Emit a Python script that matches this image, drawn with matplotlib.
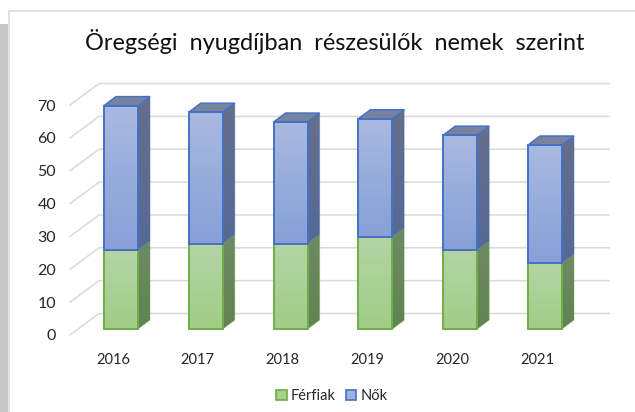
import numpy as np
import matplotlib
matplotlib.use("Agg")
import matplotlib.pyplot as plt
from matplotlib.colors import LinearSegmentedColormap
from matplotlib.patches import Patch, Polygon, Rectangle

plt.rcParams['font.family'] = ['Lato', 'DejaVu Sans']

years = ['2016', '2017', '2018', '2019', '2020', '2021']
ferfiak = [24, 26, 26, 28, 24, 20]
nok = [44, 40, 37, 36, 35, 36]
yticks = [0, 10, 20, 30, 40, 50, 60, 70]
title = 'Öregségi  nyugdíjban  részesülők  nemek  szerint'

W, H = 635, 412
PX_CAT = 84.8   # px per category
PX_VAL = 3.285  # px per value unit


def gradient(ax, poly, c_top, c_bottom, y0, y1):
    xs = [p[0] for p in poly]
    cmap = LinearSegmentedColormap.from_list('g', [c_bottom, c_top])
    im = ax.imshow(np.linspace(1, 0, 64).reshape(-1, 1), cmap=cmap, vmin=0, vmax=1,
                   extent=(min(xs), max(xs), y0, y1), aspect='auto', zorder=3)
    im.set_clip_path(Polygon(poly, transform=ax.transData))


def box(ax, x, y0, y1, front, side, cap, edge, draw_top):
    hw = 17 / PX_CAT
    dx, dy = 12 / PX_CAT, 9 / PX_VAL
    l, r = x - hw, x + hw
    side_poly = [(r, y0), (r + dx, y0 + dy), (r + dx, y1 + dy), (r, y1)]
    front_poly = [(l, y0), (r, y0), (r, y1), (l, y1)]
    gradient(ax, side_poly, side[0], side[1], y0, y1 + dy)
    gradient(ax, front_poly, front[0], front[1], y0, y1)
    ax.add_patch(Polygon(side_poly, fill=False, ec=edge, lw=0.7, alpha=0.45, zorder=4))
    if draw_top:
        top_poly = [(l, y1), (r, y1), (r + dx, y1 + dy), (l + dx, y1 + dy)]
        ax.add_patch(Polygon(top_poly, fc=cap, ec=edge, lw=1.1, zorder=4))
    ax.add_patch(Polygon(front_poly, fill=False, ec=edge, lw=1.4, zorder=5))


fig = plt.figure(figsize=(W / 100, H / 100), dpi=100, facecolor='white')

# gray frame of the screenshot
fig.add_artist(Rectangle((0, 0), 8 / W, (H - 24) / H, fc='#C8C8C8', ec='none'))
fig.add_artist(Rectangle((8 / W, 0), 1.5 / W, (H - 10) / H, fc='#E2E2E2', ec='none'))
fig.add_artist(Rectangle((8 / W, (H - 11.5) / H), (W - 8) / W, 1.5 / H, fc='#E2E2E2', ec='none'))

ax = fig.add_axes([70 / W, (H - 335) / H, 539 / W, 255 / H])
ax.set_xlim(0 - 43 / PX_CAT, 0 + (609 - 113) / PX_CAT)
ax.set_ylim(0, 255 / PX_VAL)
for s in ax.spines.values():
    s.set_visible(False)
ax.patch.set_visible(False)

# gridlines on the floor and the back wall
x_front = ax.get_xlim()[0]
x_right = ax.get_xlim()[1]
wall_dx, wall_dy = 29 / PX_CAT, 21.5 / PX_VAL
for v in yticks:
    ax.plot([x_front, x_front + wall_dx, x_right], [v, v + wall_dy, v + wall_dy],
            color='#D9D9D9', lw=1.1, zorder=1, clip_on=False)

shift_x, shift_y = 8 / PX_CAT, 6 / PX_VAL
for i in range(len(years)):
    x = i + shift_x
    base = shift_y
    box(ax, x, base, base + ferfiak[i], ('#B4D4A5', '#A0CD87'), ('#6F8A64', '#5F8450'),
        '#6F8A64', '#70AD47', False)
    box(ax, x, base + ferfiak[i], base + ferfiak[i] + nok[i], ('#A9B9E1', '#87A0D7'),
        ('#666F8C', '#556996'), '#78839F', '#4472C4', True)

ax.set_xticks(range(len(years)), years)
ax.set_yticks(yticks, [str(v) for v in yticks])
ax.tick_params(axis='both', length=0, labelcolor='#262626')
ax.tick_params(axis='x', pad=13, labelsize=10.5)
ax.tick_params(axis='y', pad=10, labelsize=11.5)

fig.text(335 / W, (H - 41) / H, title, fontsize=16.9, color='#111111', ha='center', va='center')

handles = [Patch(fc='#A9D18E', ec='#70AD47', lw=1.2, label='Férfiak'),
           Patch(fc='#A0B2E0', ec='#4472C4', lw=1.2, label='Nők')]
fig.legend(handles=handles, loc='center', bbox_to_anchor=(332 / W, (H - 396) / H), ncol=2,
           frameon=False, fontsize=10.5, labelcolor='#262626', handlelength=0.7,
           handleheight=0.7, handletextpad=0.3, columnspacing=0.7, borderpad=0)

fig.savefig('out.png', dpi=100)
